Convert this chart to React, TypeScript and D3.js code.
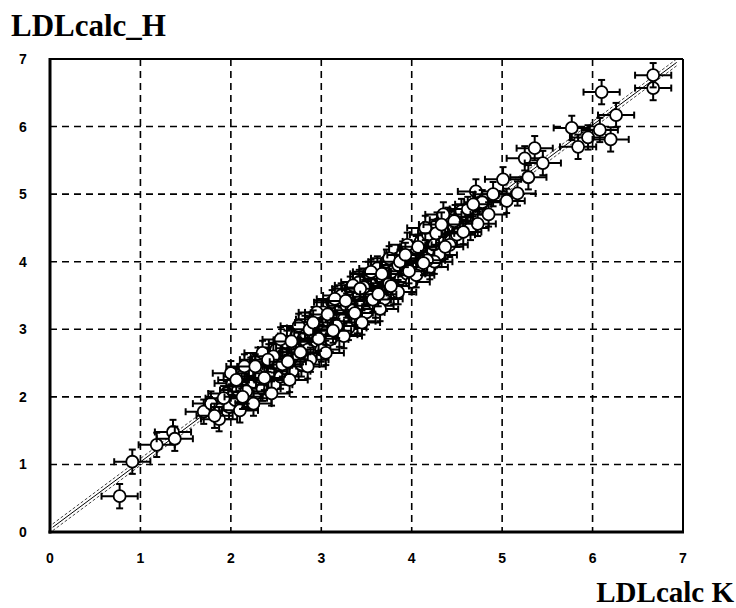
import * as d3 from "d3";
import { useEffect, useRef } from "react";

const width = 736;
const height = 608;
const margin = { top: 59, right: 53, bottom: 76, left: 50 };

const ticks = [0, 1, 2, 3, 4, 5, 6, 7];

// LDLcalc_K (x) vs LDLcalc_H (y)
const xVals = [
  0.77, 0.91, 1.18, 1.36, 1.38, 1.7, 1.87, 1.78, 1.82,
  1.95, 1.98, 2.02, 2.05, 2.08, 2.1, 2.12, 2.15, 2.18, 2.2, 2.22, 2.25, 2.28, 2.3, 2.32,
  2.35, 2.38, 2.4, 2.42, 2.45, 2.48, 2.5, 2.52, 2.55, 2.58, 2.6, 2.62, 2.65, 2.68, 2.7,
  2.72, 2.75, 2.78, 2.8, 2.82, 2.85, 2.88, 2.9, 2.92, 2.95, 2.98, 3.0, 3.02, 3.05, 3.08,
  3.1, 3.12, 3.15, 3.18, 3.2, 3.22, 3.25, 3.28, 3.3, 3.32, 3.35, 3.38, 3.4, 3.42, 3.45,
  3.48, 3.5, 3.52, 3.55, 3.58, 3.6, 3.62, 3.65, 3.68, 3.7, 3.72, 3.75, 3.78, 3.8, 3.85,
  3.88, 3.9, 3.95, 3.98, 4.0, 4.05, 4.08, 4.1, 4.15, 4.18, 4.2, 4.25, 4.28, 4.3, 4.35,
  4.4, 4.42, 4.48, 4.5, 4.55, 4.62, 4.65, 4.71, 4.73, 4.78, 4.85, 4.9, 5.01, 5.05, 5.17,
  5.25, 5.29, 5.36, 5.45, 5.77, 5.84, 5.95, 6.08, 6.1, 6.2, 6.26, 6.67, 6.67,
  2.0, 2.15, 2.25, 2.35, 2.45, 2.55, 2.65, 2.75, 2.85, 2.95, 3.05, 3.15, 3.25, 3.35,
  3.45, 3.55, 3.65, 3.75, 3.85, 3.95, 4.05, 4.15, 4.25, 4.35,
  1.92, 2.06, 2.17, 2.27, 2.37, 2.47, 2.57, 2.67, 2.77, 2.87, 2.97, 3.07, 3.17, 3.27,
  3.37, 3.47, 3.57, 3.67, 3.77, 3.87, 3.97, 4.07, 4.17, 4.27, 4.37, 4.47, 4.57, 4.68,
  2.13, 2.41, 2.63, 2.91, 3.13, 3.43, 3.63, 3.93, 4.13, 4.33,
];
const yVals = [
  0.53, 1.04, 1.29, 1.48, 1.38, 1.78, 1.67, 1.9, 1.72,
  2.05, 1.85, 2.2, 1.95, 2.1, 1.8, 2.3, 2.02, 2.15, 1.98, 2.4, 2.22, 2.05, 2.55, 2.3,
  2.12, 2.45, 2.25, 2.6, 2.35, 2.18, 2.7, 2.48, 2.3, 2.62, 2.42, 2.8, 2.55, 2.38, 2.72,
  2.9, 2.6, 2.48, 2.85, 3.02, 2.7, 2.55, 2.95, 3.15, 2.82, 3.05, 2.7, 3.25, 2.95, 3.12,
  2.85, 3.4, 3.05, 3.25, 2.92, 3.5, 3.15, 3.35, 3.02, 3.6, 3.28, 3.45, 3.12, 3.7, 3.38,
  3.55, 3.25, 3.82, 3.48, 3.65, 3.35, 3.9, 3.58, 3.75, 3.45, 4.0, 3.68, 3.85, 3.55, 3.95,
  3.75, 4.12, 3.82, 4.05, 3.7, 4.2, 3.95, 4.3, 4.05, 4.4, 3.92, 4.25, 4.55, 4.1, 4.45,
  4.62, 4.25, 4.66, 4.4, 4.75, 4.78, 4.5, 5.04, 4.56, 4.88, 4.7, 5.0, 5.22, 4.9, 5.01,
  5.53, 5.25, 5.68, 5.46, 5.98, 5.7, 5.84, 5.95, 6.51, 5.81, 6.17, 6.57, 6.76,
  2.35, 2.45, 1.9, 2.65, 2.05, 2.85, 2.25, 3.05, 2.45, 3.25, 2.65, 3.45, 2.9, 3.65,
  3.1, 3.85, 3.3, 4.05, 3.55, 4.25, 3.8, 4.5, 4.0, 4.7,
  1.98, 2.25, 2.08, 2.45, 2.28, 2.6, 2.48, 2.82, 2.66, 3.0, 2.86, 3.22, 3.05, 3.42,
  3.24, 3.62, 3.44, 3.82, 3.64, 4.0, 3.86, 4.22, 4.02, 4.42, 4.22, 4.6, 4.44, 4.85,
  2.0, 2.55, 2.52, 3.1, 2.98, 3.6, 3.52, 4.1, 3.98, 4.55,
];
const xErr = 0.2;
const yErr = 0.18;

// fitted line and its band
const fitLine = [
  [0.03, 0.07],
  [6.93, 6.95],
];
const bandOffsets = [-0.05, 0.05];

const App = () => {
  const svgRef = useRef(null);

  useEffect(() => {
    const svg = d3.select(svgRef.current);
    svg.selectAll("*").remove();

    const innerW = width - margin.left - margin.right;
    const innerH = height - margin.top - margin.bottom;
    const xScale = d3.scaleLinear().domain([0, 7]).range([0, innerW]);
    const yScale = d3.scaleLinear().domain([0, 7]).range([innerH, 0]);

    const g = svg
      .append("g")
      .attr("transform", `translate(${margin.left}, ${margin.top})`);

    // grid
    g.selectAll(".vgrid")
      .data(ticks.slice(1, -1))
      .join("line")
      .attr("x1", (d) => xScale(d))
      .attr("x2", (d) => xScale(d))
      .attr("y1", 0)
      .attr("y2", innerH)
      .attr("stroke", "#000")
      .attr("stroke-width", 1.6)
      .attr("stroke-dasharray", "7,5");
    g.selectAll(".hgrid")
      .data(ticks.slice(1, -1))
      .join("line")
      .attr("x1", 0)
      .attr("x2", innerW)
      .attr("y1", (d) => yScale(d))
      .attr("y2", (d) => yScale(d))
      .attr("stroke", "#000")
      .attr("stroke-width", 1.6)
      .attr("stroke-dasharray", "7,5");

    // regression line + band
    const line = d3
      .line()
      .x((d) => xScale(d[0]))
      .y((d) => yScale(d[1]));
    bandOffsets.forEach((off) => {
      g.append("path")
        .attr("d", line(fitLine.map(([x, y]) => [x, y + off])))
        .attr("fill", "none")
        .attr("stroke", "#444")
        .attr("stroke-width", 1)
        .attr("stroke-dasharray", "3,2");
    });
    g.append("path")
      .attr("d", line(fitLine))
      .attr("fill", "none")
      .attr("stroke", "#000")
      .attr("stroke-width", 1);

    const pts = xVals.map((x, i) => ({ x, y: yVals[i] }));
    const cap = 3.5;

    // each point: error bars then its circle, so later bars overlap earlier circles
    pts.forEach((p) => {
      const cx = xScale(p.x);
      const cy = yScale(p.y);
      const x0 = xScale(p.x - xErr);
      const x1 = xScale(p.x + xErr);
      const y0 = yScale(p.y - yErr);
      const y1 = yScale(p.y + yErr);
      const pg = g.append("g").attr("stroke", "#000").attr("stroke-width", 2);
      pg.append("line").attr("x1", x0).attr("x2", x1).attr("y1", cy).attr("y2", cy);
      pg.append("line").attr("x1", x0).attr("x2", x0).attr("y1", cy - cap).attr("y2", cy + cap);
      pg.append("line").attr("x1", x1).attr("x2", x1).attr("y1", cy - cap).attr("y2", cy + cap);
      pg.append("line").attr("x1", cx).attr("x2", cx).attr("y1", y0).attr("y2", y1);
      pg.append("line").attr("x1", cx - cap).attr("x2", cx + cap).attr("y1", y0).attr("y2", y0);
      pg.append("line").attr("x1", cx - cap).attr("x2", cx + cap).attr("y1", y1).attr("y2", y1);
      pg.append("circle")
        .attr("cx", cx)
        .attr("cy", cy)
        .attr("r", 6)
        .attr("fill", "#fff")
        .attr("stroke-width", 1.8);
    });

    // frame
    g.append("line").attr("x1", 0).attr("x2", innerW).attr("y1", 0).attr("y2", 0)
      .attr("stroke", "#000").attr("stroke-width", 2);
    g.append("line").attr("x1", innerW).attr("x2", innerW).attr("y1", 0).attr("y2", innerH)
      .attr("stroke", "#000").attr("stroke-width", 2);
    g.append("line").attr("x1", 0).attr("x2", 0).attr("y1", -1).attr("y2", innerH + 1.5)
      .attr("stroke", "#000").attr("stroke-width", 3);
    g.append("line").attr("x1", -1.5).attr("x2", innerW + 1).attr("y1", innerH).attr("y2", innerH)
      .attr("stroke", "#000").attr("stroke-width", 3);

    // tick labels
    const tickFont = "'Liberation Sans', Arial, sans-serif";
    g.selectAll(".xt")
      .data(ticks)
      .join("text")
      .attr("x", (d) => xScale(d))
      .attr("y", innerH + 31)
      .attr("text-anchor", "middle")
      .attr("font-family", tickFont)
      .attr("font-weight", "bold")
      .attr("font-size", 14)
      .text((d) => d);
    g.selectAll(".yt")
      .data(ticks)
      .join("text")
      .attr("x", -27)
      .attr("y", (d) => yScale(d) + 5)
      .attr("text-anchor", "middle")
      .attr("font-family", tickFont)
      .attr("font-weight", "bold")
      .attr("font-size", 14)
      .text((d) => d);

    // axis titles
    svg.append("text")
      .attr("x", 11)
      .attr("y", 36)
      .attr("font-family", "'Liberation Serif', 'Times New Roman', serif")
      .attr("font-weight", "bold")
      .attr("font-size", 31)
      .text("LDLcalc_H");
    svg.append("text")
      .attr("x", 734)
      .attr("y", 602)
      .attr("text-anchor", "end")
      .attr("font-family", "'Liberation Serif', 'Times New Roman', serif")
      .attr("font-weight", "bold")
      .attr("font-size", 29)
      .text("LDLcalc  K");
  }, []);

  return (
    <svg
      ref={svgRef}
      width={width}
      height={height}
      style={{ position: "absolute", left: 0, top: 0, background: "#fff" }}
    />
  );
};

export default App;
